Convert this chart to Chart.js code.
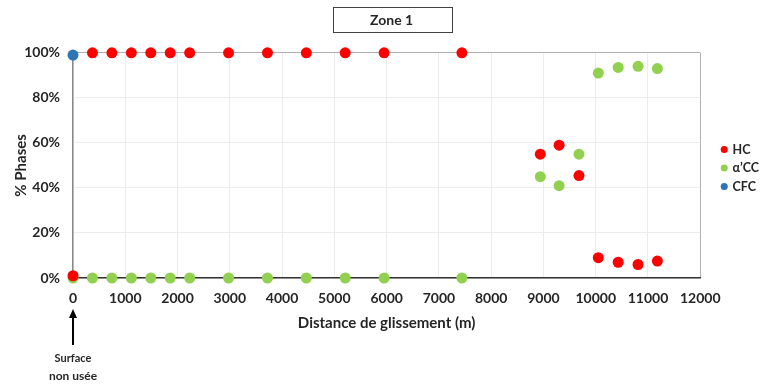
<!DOCTYPE html>
<html lang="fr">
<head>
  <meta charset="UTF-8" />
  <title>Zone 1</title>
  <script src="https://cdn.jsdelivr.net/npm/chart.js"></script>
  <style>
    body { margin: 0; background: #fff; }
    .wrap { width: 763px; height: 385px; }
  </style>
</head>
<body>
  <div class="wrap"><canvas id="chart"></canvas></div>

  <script>
    // distances de glissement (m)
    const distances = [0, 372, 744, 1116, 1488, 1860, 2232, 2976, 3720, 4464, 5208, 5952, 7440,
                       8940, 9300, 9680, 10050, 10430, 10810, 11180];
    const hcValues  = [1, 100, 100, 100, 100, 100, 100, 100, 100, 100, 100, 100, 100,
                       55, 59, 45.5, 9, 7, 6, 7.5];
    const accValues = [0, 0, 0, 0, 0, 0, 0, 0, 0, 0, 0, 0, 0,
                       45, 41, 55, 91, 93.5, 94, 93];
    const cfcValues = [99];
    const seriesNames = ["HC", "α’CC", "CFC"];
    const xTicks = { min: 0, max: 12000, step: 1000 };
    const yTicks = { min: 0, max: 100, step: 20 };

    const toPoints = vals => vals.map((v, i) => ({ x: distances[i], y: v }));

    const FONT = "Lato, 'DejaVu Sans', sans-serif";
    const textColor = "#262626";

    // cadre autour du titre
    const titleBox = {
      id: "titleBox",
      afterDraw(chart) {
        const t = chart.titleBlock;
        if (!t) return;
        const ctx = chart.ctx;
        const cx = (chart.chartArea.left + chart.chartArea.right) / 2 + 5;
        ctx.save();
        ctx.strokeStyle = "#404040";
        ctx.lineWidth = 1;
        ctx.strokeRect(Math.round(cx - 59) + 0.5, t.top + 7.5, 119, 25);
        ctx.fillStyle = textColor;
        ctx.textAlign = "center";
        ctx.textBaseline = "middle";
        ctx.font = "bold 14px " + FONT;
        ctx.fillText(t.options.text, cx, t.top + 20);
        ctx.restore();
      }
    };

    // légende décalée vers la droite
    const legendShift = {
      id: "legendShift",
      afterLayout(chart) {
        const dx = chart.chartArea.right + 16 - chart.legend.left;
        chart.legend.left += dx;
        chart.legend.right += dx;
      }
    };

    // flèche "Surface non usée" sous x = 0
    const surfaceNote = {
      id: "surfaceNote",
      afterDraw(chart) {
        const ctx = chart.ctx;
        const x = Math.round(chart.scales.x.getPixelForValue(0));
        const b = chart.chartArea.bottom;
        ctx.save();
        ctx.strokeStyle = "#000";
        ctx.fillStyle = "#000";
        ctx.lineWidth = 2;
        ctx.beginPath();
        ctx.moveTo(x, b + 67);
        ctx.lineTo(x, b + 38);
        ctx.stroke();
        ctx.beginPath();
        ctx.moveTo(x, b + 31);
        ctx.lineTo(x - 4, b + 40);
        ctx.lineTo(x + 4, b + 40);
        ctx.closePath();
        ctx.fill();
        ctx.fillStyle = textColor;
        ctx.textAlign = "center";
        ctx.textBaseline = "middle";
        ctx.font = "bold 11px " + FONT;
        ctx.fillText("Surface", x, b + 80);
        ctx.font = "bold 12px " + FONT;
        ctx.fillText("non usée", x, b + 98);
        ctx.restore();
      }
    };

    new Chart(document.getElementById("chart"), {
      type: "scatter",
      data: {
        datasets: [
          { label: seriesNames[0], data: toPoints(hcValues), backgroundColor: "#ff0000", borderWidth: 0, clip: false },
          { label: seriesNames[1], data: toPoints(accValues), backgroundColor: "#92d050", borderWidth: 0, clip: false },
          { label: seriesNames[2], data: toPoints(cfcValues), backgroundColor: "#2e75b6", borderWidth: 0, clip: false }
        ]
      },
      options: {
        responsive: true,
        maintainAspectRatio: false,
        animation: false,
        elements: { point: { radius: 5.5, hoverRadius: 5.5 } },
        layout: { padding: { left: 8, right: 10, top: 0, bottom: 49 } },
        scales: {
          x: {
            type: "linear",
            min: xTicks.min,
            max: xTicks.max,
            afterFit(s) { s.height = 58; },
            ticks: {
              stepSize: xTicks.step,
              color: textColor,
              padding: 12,
              maxRotation: 0,
              callback: v => String(v),
              font: { family: FONT, size: 14, weight: "bold" }
            },
            grid: {
              drawTicks: false,
              color: ctx => ctx.tick && ctx.tick.value === xTicks.max ? "#b0b0b0" : "#ececec"
            },
            border: { color: "#333", width: 1.5 },
            title: {
              display: true,
              text: "Distance de glissement (m)",
              color: textColor,
              font: { family: FONT, size: 15, weight: "bold" },
              padding: { top: 4, bottom: 4 }
            }
          },
          y: {
            min: yTicks.min,
            max: yTicks.max,
            afterFit(s) { s.width = 65; },
            ticks: {
              stepSize: yTicks.step,
              color: textColor,
              padding: 13,
              callback: v => v + "%",
              font: { family: FONT, size: 14, weight: "bold" }
            },
            grid: {
              drawTicks: false,
              color: ctx => ctx.tick && ctx.tick.value === yTicks.max ? "#b0b0b0" : "#ececec"
            },
            border: { color: "#888", width: 1.5 },
            title: {
              display: true,
              text: "% Phases",
              color: textColor,
              font: { family: FONT, size: 15, weight: "bold" },
              padding: { bottom: 0 }
            }
          }
        },
        plugins: {
          title: {
            display: true,
            text: "Zone 1",
            color: "rgba(0,0,0,0)",
            font: { family: FONT, size: 14, weight: "bold" },
            padding: { top: 13, bottom: 23 }
          },
          legend: {
            position: "right",
            labels: {
              usePointStyle: true,
              pointStyle: "circle",
              boxWidth: 4,
              boxHeight: 5,
              padding: 6,
              color: textColor,
              font: { family: FONT, size: 12.5, weight: "bold" }
            }
          },
          tooltip: { enabled: false }
        }
      },
      plugins: [titleBox, legendShift, surfaceNote]
    });
  </script>
</body>
</html>
